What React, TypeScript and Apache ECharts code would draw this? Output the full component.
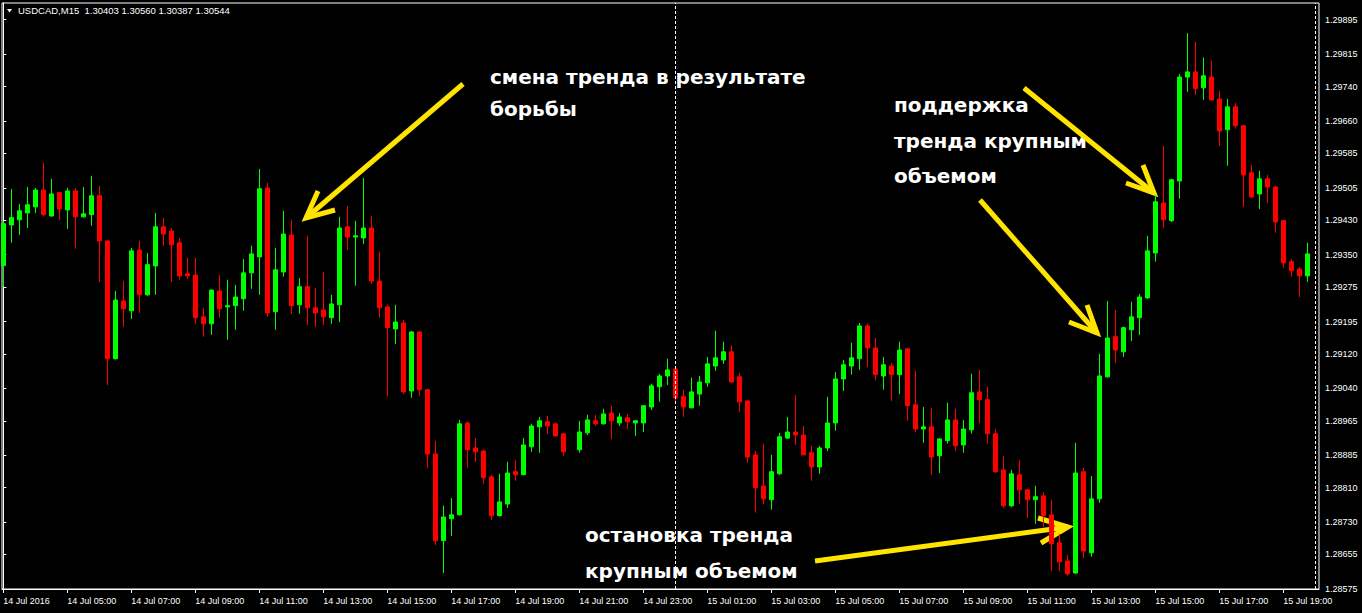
import React, { useEffect, useRef } from "react";
import * as echarts from "echarts";

// ---- data (M15 candles, index 0 = 14 Jul 03:00) ----
const opens = [
  1.29325, 1.29419, 1.29431, 1.29447, 1.29461, 1.295, 1.2944, 1.29494, 1.29454, 1.29498,
  1.29438, 1.29443, 1.29487, 1.29382, 1.29109, 1.29243, 1.2922, 1.29361, 1.29257, 1.29324,
  1.29415, 1.29405, 1.29378, 1.29306, 1.29303, 1.29206, 1.2919, 1.29266, 1.29229, 1.29232,
  1.29248, 1.29308, 1.29345, 1.29505, 1.29218, 1.2931, 1.29396, 1.29234, 1.29276, 1.29227,
  1.29222, 1.29204, 1.29234, 1.29415, 1.29391, 1.29389, 1.29412, 1.29289, 1.29229, 1.29178,
  1.29192, 1.29034, 1.29171, 1.29037, 1.28888, 1.28687, 1.28738, 1.28747, 1.2896, 1.28902,
  1.28895, 1.28835, 1.28745, 1.28772, 1.28847, 1.2884, 1.28905, 1.28951, 1.28963, 1.28958,
  1.28935, null, 1.28898, 1.28937, 1.28965, 1.28958, 1.28983, 1.2896, 1.28972, 1.2896,
  1.2896, 1.28997, 1.29044, 1.29069, 1.29085, 1.29021, 1.28995, 1.29027, 1.29053, 1.29092,
  1.29106, 1.29125, 1.29067, 1.29011, 1.28886, 1.28814, 1.28782, 1.28842, 1.28925, 1.28939,
  1.28932, 1.28891, 1.28858, 1.28902, 1.2896, 1.29062, 1.29092, 1.29109, 1.29185, 1.29134,
  1.29069, 1.29092, 1.29072, 1.29132, 1.29002, 1.28946, 1.28951, 1.28884, 1.28919, 1.28967,
  1.28909, 1.28944, 1.29032, 1.29014, 1.28935, 1.28851, 1.28768, 1.2884, 1.28805, 1.28782,
  1.28791, 1.28747, 1.28682, 1.2864, 1.28612, 1.28847, 1.28659, 1.28784, 1.29067, 1.2916,
  1.29125, 1.29176, 1.29204, 1.2925, 1.29354, 1.2947, 1.29429, 1.29521, 1.29762, 1.29774,
  1.29737, 1.29762, 1.29711, 1.2964, 1.29693, 1.29649, 1.2954, 1.29491, 1.29526, 1.29507,
  1.29429, 1.29334, 1.29317, 1.29301,
];
const closes = [
  1.29422, 1.29436, 1.29452, 1.29466, 1.295, 1.29443, 1.29491, 1.29456, 1.29498, 1.29438,
  1.29445, 1.29487, 1.29382, 1.29109, 1.29245, 1.29225, 1.29359, 1.29257, 1.29327, 1.29415,
  1.29398, 1.29373, 1.29301, 1.29301, 1.29204, 1.2919, 1.29268, 1.29225, 1.29232, 1.29252,
  1.29308, 1.29352, 1.29503, 1.29215, 1.29315, 1.29398, 1.29232, 1.29276, 1.29227, 1.29215,
  1.29206, 1.29236, 1.29412, 1.29391, 1.29394, 1.29412, 1.29289, 1.29227, 1.29181, 1.29194,
  1.29032, 1.29171, 1.29037, 1.28888, 1.28687, 1.28742, 1.28747, 1.28958, 1.28898, 1.28893,
  1.28833, 1.28745, 1.28777, 1.28844, 1.2884, 1.28909, 1.28953, 1.28965, 1.28953, 1.2893,
  1.28893, null, 1.28939, 1.28967, 1.28958, 1.28981, 1.28965, 1.28974, 1.28963, 1.28965,
  1.29, 1.29046, 1.29069, 1.29083, 1.29018, 1.28997, 1.29032, 1.29055, 1.29097, 1.29111,
  1.29125, 1.29055, 1.29009, 1.28881, 1.2881, 1.28784, 1.28847, 1.28928, 1.28939, 1.28932,
  1.28886, 1.28858, 1.28902, 1.2896, 1.29062, 1.29095, 1.29111, 1.29185, 1.29134, 1.29072,
  1.29095, 1.29072, 1.29129, 1.29, 1.28946, 1.28951, 1.28881, 1.28923, 1.28967, 1.28907,
  1.28946, 1.2903, 1.29014, 1.28935, 1.28847, 1.28768, 1.28842, 1.28805, 1.28782, 1.28789,
  1.28745, 1.2868, 1.28638, 1.2861, 1.28844, 1.28663, 1.28784, 1.29069, 1.29157, 1.29129,
  1.29181, 1.29206, 1.29252, 1.29359, 1.29473, 1.29431, 1.29524, 1.29762, 1.29774, 1.29735,
  1.29765, 1.29709, 1.29637, 1.29693, 1.29649, 1.29535, 1.29484, 1.29526, 1.29507, 1.29426,
  1.29331, 1.29313, 1.29301, 1.29352,
];
const lows = [
  1.29276, 1.29378, 1.29396, 1.29412, 1.29447, 1.2944, 1.29438, 1.29431, 1.2941, 1.29364,
  1.29436, 1.29417, 1.29287, 1.29048, 1.29107, 1.29183, 1.29201, 1.29215, 1.29255, 1.29257,
  1.29371, 1.29287, 1.29292, 1.29294, 1.2919, 1.2916, 1.29164, 1.29204, 1.29153, 1.29176,
  1.2922, 1.29271, 1.29257, 1.29206, 1.29176, 1.29299, 1.29213, 1.29213, 1.29187, 1.29183,
  1.29187, 1.2919, 1.29194, 1.29361, 1.29278, 1.29375, 1.29283, 1.29204, 1.29021, 1.29143,
  1.29027, 1.29018, 1.29023, 1.28856, 1.28677, 1.28612, 1.28698, 1.28745, 1.28856, 1.2887,
  1.28819, 1.28735, 1.28743, 1.28763, 1.28826, 1.28839, 1.28893, 1.28891, 1.28935, 1.28928,
  1.28884, null, 1.28891, 1.28932, 1.28953, 1.28956, 1.28923, 1.28953, 1.28946, 1.2893,
  1.28939, 1.2899, 1.29009, 1.29048, 1.29007, 1.28974, 1.28994, 1.29, 1.29044, 1.29081,
  1.29097, 1.29054, 1.28986, 1.28868, 1.28752, 1.28772, 1.28759, 1.2884, 1.28923, 1.28909,
  1.28885, 1.28826, 1.28842, 1.28895, 1.28942, 1.29034, 1.29072, 1.29083, 1.2909, 1.29058,
  1.29037, 1.29011, 1.29027, 1.28965, 1.28939, 1.28914, 1.2884, 1.28844, 1.28912, 1.28895,
  1.28891, 1.28935, 1.2896, 1.28912, 1.28844, 1.28763, 1.28765, 1.28772, 1.2874, 1.28726,
  1.28719, 1.28617, 1.28617, 1.28606, 1.2861, 1.28647, 1.2865, 1.28775, 1.29065, 1.29099,
  1.29113, 1.2915, 1.29164, 1.29248, 1.29334, 1.29412, 1.29426, 1.2948, 1.29728, 1.29721,
  1.29709, 1.29707, 1.29602, 1.29556, 1.29642, 1.29461, 1.29482, 1.29456, 1.2947, 1.29401,
  1.2932, 1.29299, 1.29252, 1.29287,
];
const highs = [
  1.29427, 1.29503, 1.29468, 1.29507, 1.29505, 1.29563, 1.29526, 1.29495, 1.29505, 1.29505,
  1.29507, 1.29533, 1.2951, 1.29385, 1.29266, 1.29289, 1.29366, 1.29382, 1.29354, 1.29447,
  1.29436, 1.29412, 1.29389, 1.29343, 1.29343, 1.29227, 1.2927, 1.29303, 1.29292, 1.2928,
  1.2934, 1.29371, 1.29549, 1.29517, 1.29366, 1.29452, 1.29431, 1.29296, 1.29394, 1.29273,
  1.2931, 1.29257, 1.29438, 1.29463, 1.29429, 1.29528, 1.2944, 1.29357, 1.29234, 1.29234,
  1.29199, 1.29173, 1.29173, 1.29039, 1.28918, 1.28768, 1.28786, 1.28967, 1.28963, 1.28925,
  1.28898, 1.2884, 1.28842, 1.2887, 1.28874, 1.28925, 1.28958, 1.28974, 1.28976, 1.28959,
  1.28936, null, 1.28965, 1.28979, 1.28979, 1.28993, 1.29, 1.28983, 1.28981, 1.28967,
  1.29001, 1.29051, 1.29074, 1.29109, 1.2909, 1.29037, 1.29065, 1.29069, 1.29113, 1.29174,
  1.29148, 1.29139, 1.29076, 1.29014, 1.28895, 1.28912, 1.28886, 1.28937, 1.28974, 1.29025,
  1.28953, 1.28907, 1.28907, 1.29021, 1.29078, 1.29106, 1.29146, 1.29192, 1.2919, 1.29157,
  1.29113, 1.29099, 1.29148, 1.29134, 1.29081, 1.28997, 1.28995, 1.28925, 1.29007, 1.28993,
  1.28967, 1.29074, 1.29083, 1.29044, 1.28946, 1.28884, 1.28851, 1.28874, 1.28806, 1.28814,
  1.288, 1.28782, 1.28703, 1.28654, 1.28914, 1.28856, 1.28837, 1.2912, 1.29243, 1.29222,
  1.29183, 1.29241, 1.29259, 1.29394, 1.29489, 1.29602, 1.29526, 1.29769, 1.29864, 1.29844,
  1.29807, 1.298, 1.2973, 1.29711, 1.29702, 1.29651, 1.29558, 1.29545, 1.29535, 1.2951,
  1.2943, 1.2934, 1.29322, 1.29378,
];

const xTickIndexes = [0, 8, 16, 24, 32, 40, 48, 56, 64, 72, 80, 88, 96, 104, 112, 120, 128, 136, 144, 152, 160];
const xTickLabels = [
  "14 Jul 2016", "14 Jul 05:00", "14 Jul 07:00", "14 Jul 09:00", "14 Jul 11:00", "14 Jul 13:00",
  "14 Jul 15:00", "14 Jul 17:00", "14 Jul 19:00", "14 Jul 21:00", "14 Jul 23:00", "15 Jul 01:00",
  "15 Jul 03:00", "15 Jul 05:00", "15 Jul 07:00", "15 Jul 09:00", "15 Jul 11:00", "15 Jul 13:00",
  "15 Jul 15:00", "15 Jul 17:00", "15 Jul 19:00",
];
const yTickValues = [
  1.28575, 1.28655, 1.2873, 1.2881, 1.28885, 1.28965, 1.2904, 1.2912, 1.29195, 1.29275,
  1.2935, 1.2943, 1.29505, 1.29585, 1.2966, 1.2974, 1.29815, 1.29895,
];
const separatorIndexes = [84, 164];
const headerText = "USDCAD,M15  1.30403 1.30560 1.30387 1.30544";

const notes = [
  { lines: ["смена тренда в результате", "борьбы"], x: 490, y: [77, 109] },
  { lines: ["поддержка", "тренда крупным", "объемом"], x: 894, y: [105, 141, 176] },
  { lines: ["остановка тренда", "крупным объемом"], x: 585, y: [535, 571] },
];

const arrows = [
  { from: [463, 84], tip: [306, 218], arms: [[318, 191], [335, 210]] },
  { from: [1024, 88], tip: [1154, 193], arms: [[1143, 165], [1126, 183]] },
  { from: [980, 200], tip: [1097, 333], arms: [[1087, 305], [1069, 322]] },
  { from: [815, 561], tip: [1068, 527], arms: [[1038, 518], [1041, 543]] },
];

export default function App() {
  const ref = useRef<HTMLDivElement>(null);
  useEffect(() => {
    if (!ref.current) return;
    const chart = echarts.init(ref.current, undefined, { renderer: "svg" });
    const data: any[] = [];
    for (let i = 0; i < opens.length; i++) {
      if (opens[i] == null) continue;
      data.push([i, opens[i], closes[i], lows[i], highs[i]]);
    }
    const yellow = "#FFE400";
    const graphics: any[] = [];
    graphics.push({
      type: "polygon",
      shape: { points: [[7, 9], [12, 9], [9.5, 12.5]] },
      style: { fill: "#fff" },
    });
    graphics.push({
      type: "text",
      x: 18,
      y: 10.5,
      style: {
        text: headerText,
        fill: "#fff",
        fontSize: 9.5,
        fontFamily: "Liberation Sans",
        verticalAlign: "middle",
      },
    });
    notes.forEach((n) =>
      n.lines.forEach((t, k) =>
        graphics.push({
          type: "text",
          x: n.x,
          y: n.y[k],
          style: {
            text: t,
            fill: "#fff",
            fontSize: 20,
            fontWeight: "bold",
            fontFamily: "DejaVu Sans",
            verticalAlign: "middle",
          },
        })
      )
    );
    arrows.forEach((a) => {
      graphics.push({
        type: "line",
        shape: { x1: a.from[0], y1: a.from[1], x2: a.tip[0], y2: a.tip[1] },
        style: { stroke: yellow, lineWidth: 5 },
      });
      graphics.push({
        type: "polyline",
        shape: { points: [a.arms[0], a.tip, a.arms[1]] },
        style: { stroke: yellow, lineWidth: 5, fill: null, lineJoin: "miter" },
      });
    });

    chart.setOption({
      animation: false,
      backgroundColor: "#000",
      grid: {
        left: 2,
        right: 43,
        top: 3,
        bottom: 24,
        show: true,
        borderColor: "#fff",
        borderWidth: 1,
        backgroundColor: "#000",
      },
      xAxis: {
        type: "value",
        min: -0.166,
        max: 164.46,
        axisLine: { show: true, lineStyle: { color: "#fff", width: 1 } },
        axisTick: { show: true, length: 4, lineStyle: { color: "#fff" }, customValues: xTickIndexes },
        axisLabel: {
          show: true,
          customValues: xTickIndexes,
          color: "#fff",
          fontSize: 9,
          fontFamily: "Liberation Sans",
          align: "left",
          margin: 7,
          formatter: (v: number) => xTickLabels[xTickIndexes.indexOf(Math.round(v))] ?? "",
        },
        splitLine: { show: false },
      },
      yAxis: {
        type: "value",
        position: "right",
        min: 1.28575,
        max: 1.299337,
        scale: true,
        axisLine: { show: true, lineStyle: { color: "#fff", width: 1 } },
        axisTick: { show: true, length: 3, lineStyle: { color: "#fff" }, customValues: yTickValues },
        axisLabel: {
          show: true,
          customValues: yTickValues,
          color: "#fff",
          fontSize: 9,
          fontFamily: "Liberation Sans",
          margin: 6,
          formatter: (v: number) => v.toFixed(5),
        },
        splitLine: { show: false },
      },
      series: [
        {
          type: "candlestick",
          data,
          encode: { x: 0, y: [1, 2, 3, 4] },
          barWidth: 4,
          itemStyle: {
            color: "#00ff00",
            color0: "#ff0000",
            borderColor: "#00ff00",
            borderColor0: "#ff0000",
            borderWidth: 1,
          },
          markLine: {
            silent: true,
            symbol: ["none", "none"],
            label: { show: false },
            lineStyle: { color: "#fff", type: [3, 2], width: 1 },
            data: separatorIndexes.map((v) => ({ xAxis: v })),
          },
        },
      ],
      graphic: graphics,
    });
    return () => chart.dispose();
  }, []);
  return (
    <div
      ref={ref}
      style={{ position: "fixed", left: 0, top: 0, width: 1362, height: 613, background: "#000" }}
    />
  );
}
